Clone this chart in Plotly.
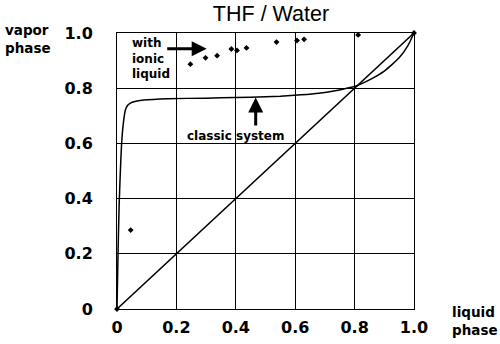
import plotly.graph_objects as go

# Vapour-liquid equilibrium, THF / water (mole fraction THF)
tick_vals = [0, 0.2, 0.4, 0.6, 0.8, 1.0]
tick_text = ["0", "0.2", "0.4", "0.6", "0.8", "1.0"]

# classic system (no additive): equilibrium curve
classic_x = [0, 0.0035, 0.007, 0.011, 0.015, 0.02, 0.028, 0.036, 0.045, 0.06,
             0.09, 0.17, 0.3, 0.4, 0.5, 0.55, 0.62, 0.68, 0.73, 0.77, 0.81,
             0.85, 0.9, 0.95, 0.98, 1.0]
classic_y = [0, 0.2, 0.37, 0.49, 0.59, 0.66, 0.72, 0.738, 0.746, 0.752,
             0.757, 0.762, 0.764, 0.766, 0.769, 0.771, 0.776, 0.782, 0.79, 0.799, 0.81,
             0.83, 0.862, 0.91, 0.955, 1.0]

# with ionic liquid: measured points
ionic_x = [0, 0.046, 0.247, 0.298, 0.337, 0.385, 0.404, 0.436, 0.537, 0.606, 0.630, 0.812, 1.0]
ionic_y = [0, 0.286, 0.887, 0.910, 0.918, 0.942, 0.937, 0.946, 0.967, 0.973, 0.977, 0.993, 1.0]

# x = y reference line
diag_x = [0, 1]
diag_y = [0, 1]

BOLD = dict(family="DejaVu Sans", color="black", weight="bold")

fig = go.Figure()
fig.add_trace(go.Scatter(x=diag_x, y=diag_y, mode="lines",
                         line=dict(color="black", width=1.5), cliponaxis=False))
fig.add_trace(go.Scatter(x=classic_x, y=classic_y, mode="lines",
                         line=dict(color="black", width=1.5, shape="spline", smoothing=0.5),
                         cliponaxis=False))
fig.add_trace(go.Scatter(x=ionic_x, y=ionic_y, mode="markers",
                         marker=dict(symbol="diamond", size=4.5, color="black"),
                         cliponaxis=False))

axis_common = dict(range=[0, 1], tickvals=tick_vals, ticktext=tick_text,
                   showgrid=True, gridcolor="black", gridwidth=1,
                   zeroline=False, showline=True, linecolor="black", linewidth=1,
                   mirror=True, ticks="", automargin=False,
                   tickfont=dict(size=16, **BOLD))

fig.update_layout(
    width=500, height=344,
    margin=dict(l=117, r=86, t=33, b=35),
    paper_bgcolor="white", plot_bgcolor="white",
    showlegend=False,
    xaxis=dict(**axis_common, ticklabelstandoff=4),
    yaxis=dict(**axis_common, ticklabelstandoff=20),
    title=dict(text="THF / Water", x=271 / 500, xanchor="center",
               y=1 - 13 / 344, yanchor="middle",
               font=dict(family="Liberation Sans", size=21.5, color="black")),
)

# axis captions
fig.add_annotation(text="vapor<br>phase", xref="paper", yref="paper", x=-114 / 297,
                   xanchor="left", y=(309 - 39) / 276, yanchor="middle", align="left",
                   showarrow=False, font=dict(size=13.5, **BOLD))
fig.add_annotation(text="liquid<br>phase", xref="paper", yref="paper", x=(450 - 117) / 297,
                   xanchor="left", y=(309 - 321) / 276, yanchor="middle", align="left",
                   showarrow=False, font=dict(size=13.5, **BOLD))

# series labels with arrows
fig.add_annotation(text="with<br>ionic<br>liquid", x=0.045, y=0.908, xref="x", yref="y",
                   xanchor="left", yanchor="middle", align="left", showarrow=False,
                   font=dict(size=12, **BOLD))
fig.add_annotation(text="", x=0.302, y=0.943, ax=0.164, ay=0.943,
                   xref="x", yref="y", axref="x", ayref="y",
                   showarrow=True, arrowhead=2, arrowwidth=3, arrowsize=1,
                   arrowcolor="black")
fig.add_annotation(text="classic system", x=0.402, y=0.627, xref="x", yref="y",
                   xanchor="center", yanchor="middle", showarrow=False,
                   font=dict(size=12, **BOLD))
fig.add_annotation(text="", x=0.467, y=0.766, ax=0.467, ay=0.659,
                   xref="x", yref="y", axref="x", ayref="y",
                   showarrow=True, arrowhead=2, arrowwidth=3, arrowsize=1,
                   arrowcolor="black")

fig.write_html("out.html")
